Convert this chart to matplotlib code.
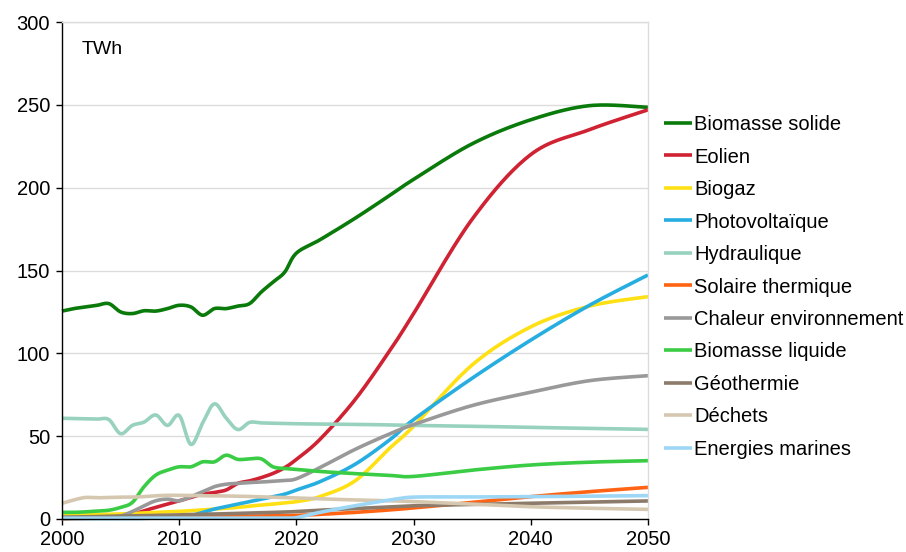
import numpy as np
import matplotlib
matplotlib.use("Agg")
import matplotlib.pyplot as plt

plt.rcParams['font.family'] = ['Liberation Sans', 'DejaVu Sans']

years = list(range(2000, 2021)) + [2022, 2025, 2028, 2030, 2035, 2040, 2045, 2050]

biomasse_solide = [125.5, 127, 128, 129, 130, 125, 124, 125.7, 125.5, 127, 129, 128, 123, 127, 127,
                   128.5, 130, 137, 143, 149, 160.5, 168.5, 181.5, 195.5, 205, 226.5, 241, 249.5, 248.5]
eolien = [0.3, 0.5, 0.8, 1.2, 1.5, 2, 2.8, 5, 7, 9, 11, 13, 15, 16, 17.5,
          21.5, 23, 25, 27.5, 31, 36, 48, 72, 102, 124, 181, 220, 235, 247]
biogaz = [2, 2.2, 2.4, 2.6, 2.8, 3, 3.3, 3.6, 4, 4.3, 4.6, 5, 5.5, 6, 6.5,
          7, 7.8, 8.4, 9, 9.8, 10.5, 13.5, 23, 43, 56, 93, 116, 128.5, 134.2]
photovoltaique = [0.3, 0.3, 0.3, 0.3, 0.3, 0.3, 0.3, 0.4, 0.5, 0.6, 0.8, 2, 4, 6, 7.5,
                  9, 10.5, 12, 13.5, 15, 17.5, 22.5, 33, 48, 60, 85, 108, 129, 147.3]
hydraulique = [60.8, 60.6, 60.5, 60.3, 60.0, 51.5, 56.5, 58.5, 62.8, 56.5, 62.5, 45, 58, 69.5, 61,
               54, 58.3, 58, 57.8, 57.7, 57.5, 57.3, 57.1, 56.8, 56.5, 56, 55.3, 54.7, 54.1]
solaire_thermique = [0.3, 0.4, 0.5, 0.5, 0.6, 0.7, 0.8, 0.9, 1.0, 1.0, 1.1, 1.2, 1.3, 1.4, 1.5,
                     1.6, 1.7, 1.8, 1.9, 2.0, 2.2, 2.8, 4, 5.5, 6.7, 10, 13.5, 16.5, 19.1]
chaleur_env = [1, 1, 1, 1.2, 1.4, 1.8, 4.5, 8, 11, 12, 11, 13.5, 16.5, 19.5, 21,
               21.5, 22, 22.3, 22.8, 23.3, 24.3, 31, 42, 51.5, 57, 68.5, 76.5, 83.5, 86.5]
biomasse_liquide = [4, 4, 4.3, 4.8, 5.3, 7, 10, 19.5, 26.5, 29.5, 31.5, 31.5, 34.5, 34.5, 38.5,
                    36, 36.3, 36.3, 31.5, 30.5, 30, 28.7, 27.4, 26.3, 25.7, 29.5, 32.6, 34.3, 35.2]
geothermie = [1.0, 1.2, 1.3, 1.5, 1.6, 1.8, 1.9, 2.0, 2.2, 2.3, 2.5, 2.7, 2.9, 3.0, 3.2,
              3.4, 3.6, 3.8, 4.0, 4.2, 4.5, 5.3, 6.3, 7.3, 8, 8.8, 9.5, 10.2, 10.9]
dechets = [9.5, 11.5, 13, 12.8, 13, 13.2, 13.2, 13.5, 14, 14.3, 14.3, 14.2, 14, 14, 13.9,
           13.8, 13.6, 13.4, 13.2, 13, 12.7, 12.2, 11.5, 11, 10.5, 9, 7.4, 6.5, 5.8]
energies_marines = [0.5, 0.5, 0.5, 0.5, 0.5, 0.5, 0.5, 0.5, 0.5, 0.5, 0.5, 0.5, 0.5, 0.5, 0.5,
                    0.5, 0.5, 0.5, 0.5, 0.5, 0.8, 4, 8, 11.5, 13.2, 13.3, 13.5, 13.8, 14.1]

labels = ["Biomasse solide", "Eolien", "Biogaz", "Photovoltaïque", "Hydraulique",
          "Solaire thermique", "Chaleur environnement", "Biomasse liquide", "Géothermie",
          "Déchets", "Energies marines"]
series = [biomasse_solide, eolien, biogaz, photovoltaique, hydraulique, solaire_thermique,
          chaleur_env, biomasse_liquide, geothermie, dechets, energies_marines]
colors = ["#0a7a0a", "#cf2232", "#ffe014", "#27aee0", "#98d2be", "#ff6414",
          "#999999", "#3acc44", "#8c7b6b", "#d6c8b0", "#9dd7f5"]

x_ticks = [2000, 2010, 2020, 2030, 2040, 2050]
y_ticks = [0, 50, 100, 150, 200, 250, 300]


def smooth(xs, ys, n=30):
    """Excel-like smoothed line: cubic Bezier with Catmull-Rom control points."""
    p = np.column_stack([xs, ys]).astype(float)
    m = len(p)
    out = []
    for i in range(m - 1):
        p0 = p[i]
        p3 = p[i + 1]
        pm = p[i - 1] if i > 0 else p[i]
        pn = p[i + 2] if i + 2 < m else p[i + 1]
        c1 = p0 + (p3 - pm) / 6.0
        c2 = p3 - (pn - p0) / 6.0
        t = np.linspace(0, 1, n, endpoint=(i == m - 2))[:, None]
        seg = ((1 - t) ** 3) * p0 + 3 * ((1 - t) ** 2) * t * c1 + 3 * (1 - t) * t ** 2 * c2 + t ** 3 * p3
        out.append(seg)
    out = np.vstack(out)
    return out[:, 0], out[:, 1]


fig = plt.figure(figsize=(9.06, 5.52), dpi=100)
ax = fig.add_axes([62 / 906, 33 / 552, 586 / 906, 497 / 552])

for lab, vals, col in zip(labels, series, colors):
    sx, sy = smooth(years, vals)
    ax.plot(sx, sy, color=col, lw=2.6, label=lab, solid_capstyle='butt', clip_on=False)

ax.set_xlim(2000, 2050)
ax.set_ylim(0, 300)
ax.set_xticks(x_ticks)
ax.set_yticks(y_ticks)
ax.tick_params(axis='both', labelsize=14.5, direction='out', length=4.5, width=1, colors='black')
ax.tick_params(axis='x', pad=3.5)
ax.tick_params(axis='y', pad=4)
ax.grid(axis='y', color='#dcdcdc', lw=1)
ax.set_axisbelow(True)
for s in ['top', 'right']:
    ax.spines[s].set_color('#dcdcdc')
    ax.spines[s].set_linewidth(1)
for s in ['left', 'bottom']:
    ax.spines[s].set_color('black')
    ax.spines[s].set_linewidth(1)

ax.text(0.034, 0.945, "TWh", transform=ax.transAxes, fontsize=14, va='center', ha='left')

leg = fig.legend(loc='center left', bbox_to_anchor=(664 / 906, 1 - 287 / 552),
                 bbox_transform=fig.transFigure, frameon=False, fontsize=14.5,
                 handlelength=1.4, handletextpad=0.1, labelspacing=0.67, borderpad=0,
                 borderaxespad=0)
for h in leg.get_lines():
    h.set_linewidth(2.6)

fig.savefig("out.png", dpi=100)
